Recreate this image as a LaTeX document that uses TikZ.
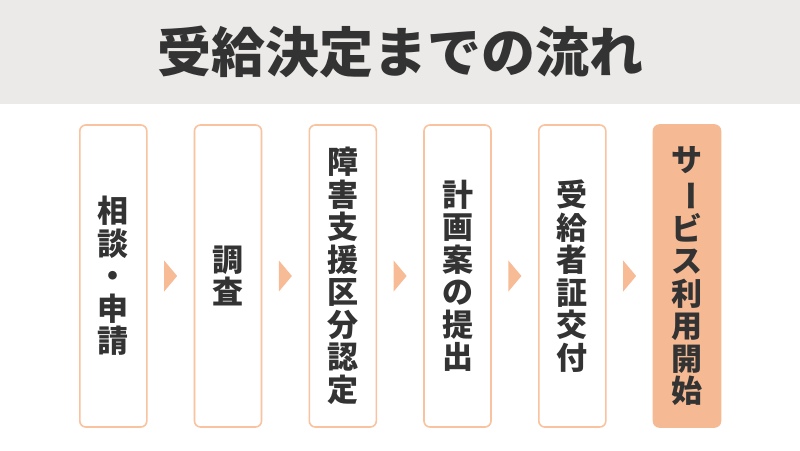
\documentclass[tikz,border=0pt]{standalone}
\usepackage{fontspec}
\usepackage{graphicx}
\newfontfamily\jpfont{Noto Sans CJK JP}
\usetikzlibrary{calc}
\definecolor{band}{HTML}{ECEAE8}
\definecolor{ink}{HTML}{333333}
\definecolor{boxline}{HTML}{F9C3A0}
\definecolor{boxfill}{HTML}{F5BA94}
\definecolor{arrowfill}{HTML}{F7BC96}
\newcommand{\tatebar}{\rotatebox[origin=c]{-90}{ー}}

\begin{document}
\begin{tikzpicture}[x=1pt, y=-1pt,
        stepbox/.style={draw=boxline, line width=1.6pt, rounded corners=6pt, fill=white,
                minimum width=67pt, minimum height=302pt, inner sep=0pt, align=center,
                text=ink, font=\jpfont\bfseries\fontsize{31}{32.5}\selectfont},
        goalbox/.style={stepbox, draw=boxfill, fill=boxfill}]

        \useasboundingbox (0,0) rectangle (800,450);
        \fill[white] (0,0) rectangle (800,450);
        \fill[band] (0,0) rectangle (800,104);

        \node[text=ink, font=\jpfont\bfseries\fontsize{54}{54}\selectfont] (title) at (400,52) {受給決定までの流れ};

        \foreach \i/\x/\txt in {1/113.3/{相\\談\\・\\申\\請}, 2/228.0/{調\\査},
                3/342.8/{障\\害\\支\\援\\区\\分\\認\\定}, 4/457.5/{計\\画\\案\\の\\提\\出},
                5/572.3/{受\\給\\者\\証\\交\\付}}
                \node[stepbox] (s\i) at (\x,276) {\txt};
        \node[goalbox] (s6) at (687.0,276) {サ\\\tatebar\\ビ\\ス\\利\\用\\開\\始};

        \foreach \a/\b in {1/2, 2/3, 3/4, 4/5, 5/6} {
                \coordinate (m\a) at ($(s\a.east)!0.5!(s\b.west)$);
                \fill[arrowfill] ($(m\a)+(-6.5,-15.5)$) -- ($(m\a)+(6.5,0)$) -- ($(m\a)+(-6.5,15.5)$) -- cycle;
        }

\end{tikzpicture}
\end{document}
